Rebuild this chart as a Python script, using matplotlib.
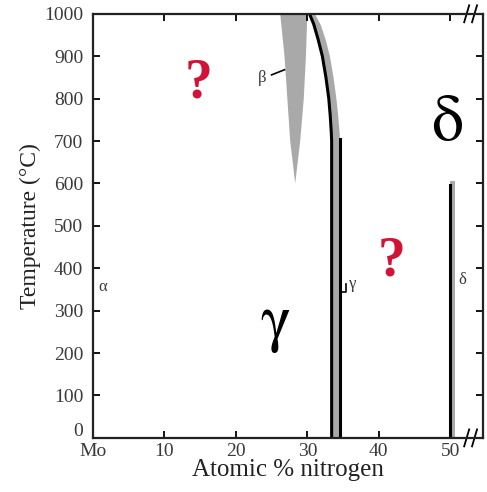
import matplotlib
matplotlib.use("Agg")
import matplotlib.pyplot as plt
from matplotlib.transforms import ScaledTranslation

plt.rcParams['mathtext.fontset'] = 'stix'

# %% data
x_ticks = [0, 10, 20, 30, 40, 50]
x_ticklabels = ['Mo', '10', '20', '30', '40', '50']
y_ticks = list(range(0, 1001, 100))

# beta region (grey wedge)
beta_x = [26.2, 26.8, 27.2, 27.6, 28.3, 29.0, 29.5, 29.8, 30.0]
beta_t = [1000, 900, 800, 700, 600, 700, 800, 900, 1000]

# gamma boundary (black curve) and grey band next to it
gam_x = [30.3, 30.9, 31.5, 32.1, 32.6, 33.0, 33.2, 33.35, 33.4, 33.4]
gam_t = [1000, 975, 940, 900, 850, 800, 760, 720, 700, 0]
gam_outer_x = [31.0, 31.8, 32.5, 33.1, 33.6, 34.0, 34.25, 34.45, 34.5, 34.5]
gam_inner_line_x = 34.5
gam_inner_top = 705

# delta line
delta_x = 49.9
delta_top = 597
delta_grey_x = 50.7
delta_grey_top = 605

grey = '#a9a9a9'
tick_col = '#3a3a3a'
serif = ['Liberation Serif', 'DejaVu Serif']

# %% plot
fig = plt.figure(figsize=(4.87, 4.92), dpi=100)
ax = fig.add_axes([0.191, 0.110, 0.801, 0.862])

ax.fill(beta_x, beta_t, color=grey, lw=0)
ax.fill_betweenx(gam_t, gam_x, gam_outer_x, color=grey, lw=0)
ax.plot(gam_x, gam_t, color='k', lw=2.2, solid_capstyle='butt')
ax.plot([gam_inner_line_x, gam_inner_line_x], [0, gam_inner_top], color='k', lw=2.2)
ax.fill_betweenx([0, delta_grey_top], delta_x, delta_grey_x, color=grey, lw=0)
ax.plot([delta_x, delta_x], [0, delta_top], color='k', lw=2.2)

# small phase labels with leader lines
ax.text(1.4, 356, 'α', fontsize=12, color=tick_col, family=serif, ha='center', va='center')
ax.text(23.7, 849, 'β', fontsize=12, color=tick_col, family=serif, ha='center', va='center')
ax.plot([25.0, 26.8], [856, 868], color='k', lw=1.2)
ax.text(36.4, 363, 'γ', fontsize=12, color=tick_col, family=serif, ha='center', va='center')
ax.plot([34.6, 35.4, 35.4], [343, 343, 362], color='k', lw=1.2)
ax.text(51.7, 373, 'δ', fontsize=12, color=tick_col, family=serif, ha='center', va='center')

# big annotations
ax.text(14.7, 835, '?', fontsize=40, color='#d01437', family=serif, weight='bold',
        ha='center', va='center')
ax.text(41.8, 417, '?', fontsize=40, color='#d01437', family=serif, weight='bold',
        ha='center', va='center')
ax.text(25.5, 268, r'$\mathrm{\gamma}$', fontsize=46, color='k', ha='center', va='center')
ax.text(49.6, 745, r'$\mathrm{\delta}$', fontsize=46, color='k', ha='center', va='center')

# axis break marks
for xb in [52.3, 53.4]:
    for yb in [0, 1000]:
        ax.plot([xb - 0.35, xb + 0.35], [yb - 20, yb + 20], color='k', lw=1.3, clip_on=False)

ax.set_xlim(0, 54.6)
ax.set_ylim(0, 1000)
ax.set_xticks(x_ticks, x_ticklabels)
ax.set_yticks(y_ticks)
ax.tick_params(direction='in', length=5, width=1.3, top=True, right=True,
               labelsize=14, labelcolor=tick_col, pad=7)
ax.tick_params(axis='x', pad=4)
ax.tick_params(axis='y', labelright=False)
for lab in ax.get_xticklabels() + ax.get_yticklabels():
    lab.set_family(serif)
# "0" of the temperature axis sits a little higher, above "Mo"
zero_lab = ax.get_yticklabels()[0]
zero_lab.set_transform(zero_lab.get_transform() + ScaledTranslation(0, 6 / 72, fig.dpi_scale_trans))
for sp in ax.spines.values():
    sp.set_linewidth(1.6)
    sp.set_color('#222222')

ax.set_xlabel('Atomic % nitrogen', fontsize=18, family=serif, color='#222222', labelpad=-1)
ax.set_ylabel('Temperature (°C)', fontsize=17, family=serif, color='#222222', labelpad=2)

fig.savefig('out.png', dpi=100)
plt.close()
